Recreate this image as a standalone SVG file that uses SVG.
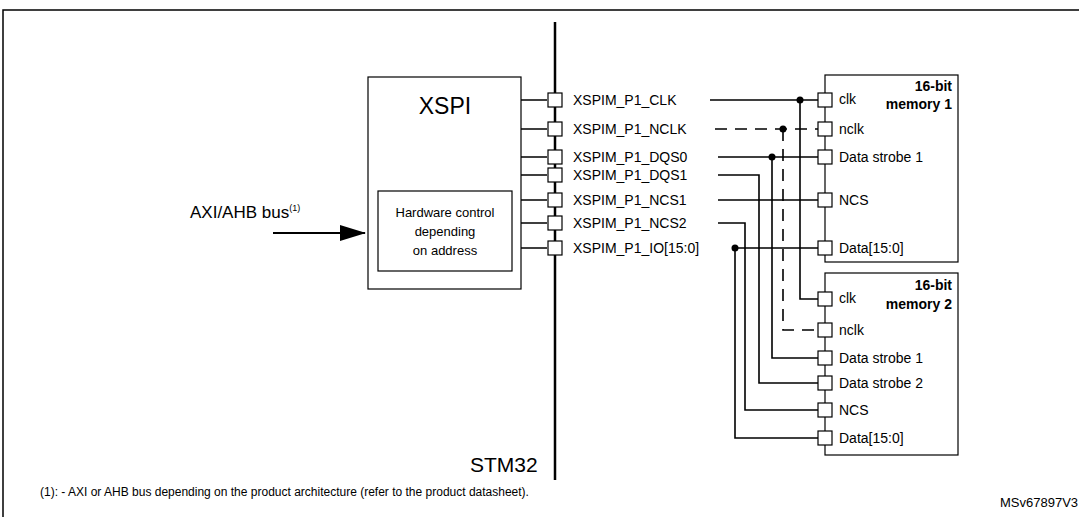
<svg xmlns="http://www.w3.org/2000/svg" width="1079" height="517" viewBox="0 0 1079 517">
<style>
text{font-family:"Liberation Sans",Arial,sans-serif;fill:#000}
.l{font-size:14px}
.b{font-size:14px;font-weight:bold}
.w{fill:none;stroke:#000;stroke-width:1.6}
.d{fill:none;stroke:#000;stroke-width:1.6;stroke-dasharray:12,8}
.p{fill:#fff;stroke:#000;stroke-width:1.2}
.box{fill:#fff;stroke:#000;stroke-width:1.2}
</style>
<defs><marker id="ah" markerWidth="26" markerHeight="16" refX="25" refY="8" orient="auto" markerUnits="userSpaceOnUse"><path d="M0,0 L26,8 L0,16 Z" fill="#000"/></marker></defs>
<rect x="3" y="10" width="1090" height="520" fill="none" stroke="#000" stroke-width="1.5"/>
<g id="connectors">
<line x1="555" y1="22" x2="555" y2="480" stroke="#000" stroke-width="2.5"/>
<line x1="273" y1="233" x2="365" y2="233" stroke="#000" stroke-width="2" marker-end="url(#ah)"/>
<path class="w" d="M521,100H547M521,129H547M521,157H547M521,175H547M521,200H547M521,223H547M521,248H547"/>
<path class="w" d="M710,100H818M800,100V299H818"/>
<path class="d" d="M715,129H818"/>
<path class="d" d="M783,129V330H818"/>
<path class="w" d="M718,157H818M772,157V358H818"/>
<path class="w" d="M718,175H759V383H818"/>
<path class="w" d="M718,200H818"/>
<path class="w" d="M718,223H745V410H818"/>
<path class="w" d="M733,248H818M735,248V438H818"/>
<circle cx="800" cy="100" r="3.5"/><circle cx="783" cy="129" r="3.5"/><circle cx="772" cy="157" r="3.5"/><circle cx="735" cy="248" r="3.5"/>
</g>
<g id="xspi">
<rect class="box" x="368" y="77" width="153" height="212"/>
<text x="445" y="114" font-size="23" text-anchor="middle">XSPI</text>
<rect class="box" x="378" y="191" width="134" height="80"/>
<text x="445" y="217" font-size="13" text-anchor="middle">Hardware control</text>
<text x="445" y="236" font-size="13" text-anchor="middle">depending</text>
<text x="445" y="255" font-size="13" text-anchor="middle">on address</text>
</g>
<g id="axi"><text x="190" y="218" font-size="17">AXI/AHB bus<tspan font-size="9" dy="-7">(1)</tspan></text></g>
<g id="pins">
<rect class="p" x="548" y="93" width="14" height="14"/><rect class="p" x="548" y="122" width="14" height="14"/><rect class="p" x="548" y="150" width="14" height="14"/><rect class="p" x="548" y="168" width="14" height="14"/><rect class="p" x="548" y="193" width="14" height="14"/><rect class="p" x="548" y="216" width="14" height="14"/><rect class="p" x="548" y="241" width="14" height="14"/>
<text class="l" x="573" y="105">XSPIM_P1_CLK</text>
<text class="l" x="573" y="134">XSPIM_P1_NCLK</text>
<text class="l" x="573" y="162">XSPIM_P1_DQS0</text>
<text class="l" x="573" y="180">XSPIM_P1_DQS1</text>
<text class="l" x="573" y="205">XSPIM_P1_NCS1</text>
<text class="l" x="573" y="228">XSPIM_P1_NCS2</text>
<text class="l" x="573" y="253">XSPIM_P1_IO[15:0]</text>
</g>
<g id="mem1">
<rect class="box" x="825" y="75" width="133" height="187"/>
<text class="b" x="952" y="91" text-anchor="end">16-bit</text>
<text class="b" x="952" y="109" text-anchor="end">memory 1</text>
<rect class="p" x="818" y="93" width="14" height="14"/><rect class="p" x="818" y="122" width="14" height="14"/><rect class="p" x="818" y="150" width="14" height="14"/><rect class="p" x="818" y="193" width="14" height="14"/><rect class="p" x="818" y="241" width="14" height="14"/>
<text class="l" x="839" y="104">clk</text>
<text class="l" x="839" y="134">nclk</text>
<text class="l" x="839" y="162">Data strobe 1</text>
<text class="l" x="839" y="205">NCS</text>
<text class="l" x="839" y="253">Data[15:0]</text>
</g>
<g id="mem2">
<rect class="box" x="825" y="273" width="133" height="182"/>
<text class="b" x="952" y="290" text-anchor="end">16-bit</text>
<text class="b" x="952" y="309" text-anchor="end">memory 2</text>
<rect class="p" x="818" y="292" width="14" height="14"/><rect class="p" x="818" y="323" width="14" height="14"/><rect class="p" x="818" y="351" width="14" height="14"/><rect class="p" x="818" y="376" width="14" height="14"/><rect class="p" x="818" y="403" width="14" height="14"/><rect class="p" x="818" y="431" width="14" height="14"/>
<text class="l" x="839" y="303">clk</text>
<text class="l" x="839" y="335">nclk</text>
<text class="l" x="839" y="363">Data strobe 1</text>
<text class="l" x="839" y="388">Data strobe 2</text>
<text class="l" x="839" y="415">NCS</text>
<text class="l" x="839" y="443">Data[15:0]</text>
</g>
<text x="470" y="472" font-size="21">STM32</text>
<text x="40" y="496" font-size="12">(1): - AXI or AHB bus depending on the product architecture (refer to the product datasheet).</text>
<text x="1000" y="507" font-size="13">MSv67897V3</text>
</svg>
